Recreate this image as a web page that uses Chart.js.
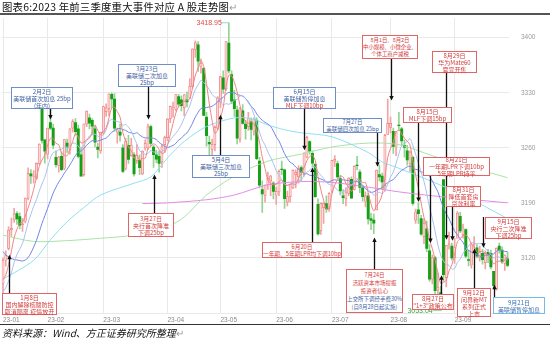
<!DOCTYPE html>
<html><head><meta charset="utf-8">
<script src="https://cdn.jsdelivr.net/npm/chart.js@4.4.1/dist/chart.umd.min.js"></script>
<style>
html,body{margin:0;padding:0;background:#fff;}
#wrap{position:relative;width:550px;height:342px;overflow:hidden;font-family:"Noto Sans CJK SC","Noto Sans",sans-serif;}
#c{position:absolute;left:0;top:0;}
.title{position:absolute;left:2px;top:-1px;font-size:10.4px;line-height:15px;color:#111;white-space:nowrap;letter-spacing:0.2px;}
.rule{position:absolute;left:0;width:550px;}
.src{position:absolute;left:2px;top:326px;font-size:10px;line-height:14px;font-style:italic;color:#111;white-space:nowrap;}
.ann{position:absolute;box-sizing:border-box;background:#fff;border:1px solid;text-align:center;white-space:nowrap;display:flex;flex-direction:column;justify-content:center;align-items:center;}
.ann div{line-height:7px;}
</style></head>
<body><div id="wrap">
<canvas id="c" width="550" height="342"></canvas>
<div class="title">图表6:2023 年前三季度重大事件对应 A 股走势图<span style="color:#999">↵</span></div>
<div class="rule" style="top:13px;height:2px;background:#555"></div>
<div class="rule" style="top:324px;height:1px;background:#333"></div>
<div class="src">资料来源：Wind、方正证券研究所整理<span style="color:#999;font-style:normal">↵</span></div>
</div>
<script>
// ---- trading days (2023, MMDD) ----
const dates = [
'0103','0104','0105','0106','0109','0110','0111','0112','0113','0116','0117','0118','0119','0120','0130','0131',
'0201','0202','0203','0206','0207','0208','0209','0210','0213','0214','0215','0216','0217','0220','0221','0222','0223','0224','0227','0228',
'0301','0302','0303','0306','0307','0308','0309','0310','0313','0314','0315','0316','0317','0320','0321','0322','0323','0324','0327','0328','0329','0330','0331',
'0403','0404','0406','0407','0410','0411','0412','0413','0414','0417','0418','0419','0420','0421','0424','0425','0426','0427','0428',
'0504','0505','0508','0509','0510','0511','0512','0515','0516','0517','0518','0519','0522','0523','0524','0525','0526','0529','0530','0531',
'0601','0602','0605','0606','0607','0608','0609','0612','0613','0614','0615','0616','0619','0620','0621','0626','0627','0628','0629','0630',
'0703','0704','0705','0706','0707','0710','0711','0712','0713','0714','0717','0718','0719','0720','0721','0724','0725','0726','0727','0728','0731',
'0801','0802','0803','0804','0807','0808','0809','0810','0811','0814','0815','0816','0817','0818','0821','0822','0823','0824','0825','0828','0829','0830','0831',
'0901','0904','0905','0906','0907','0908','0911','0912','0913','0914','0915','0918','0919','0920','0921','0922','0925','0926','0927','0928'];

const opens = [
3087.5,3117,3132,3155.8,3168.3,3176.3,3172.5,3162.2,3166.6,3196,3227,3223.5,3221,3240,3311,3270,
3252,3292,3285,3248,3237,3249,3234,3266,3258,3285,3292,3284,3251,3226,3290,3298,3295,3284,3261,3256,
3279,3306,3310,3328,3322,3280,3280,3260,3234,3263,3250,3251,3244,3244,3227,3260,3260,3287,3261,3251,3249,3242,3264,
3273,3297,3309,3309,3325,3321,3311,3321,3323,3338,3385,3391,3363,3361,3299,3267,3258,3264,3285,
3318,3349,3335,3393,3353,3321,3308,3271,3307,3290,3287,3293,3281,3295,3243,3207,3199,3213,3218,3215,
3200,3204,3233,3232,3191,3198,3209,3226,3223,3235,3226,3248,3268,3253,3239,3188,3155,3184,3189,3183,
3205,3243,3240,3221,3199,3195,3202,3220,3207,3238,3229,3209,3192,3199,3170,3168,3181,3226,3224,3212,3277,
3286,3281,3261,3289,3284,3263,3256,3240,3248,3168,3181,3170,3147,3157,3129,3093,3120,3079,3076,3219.5,3095,3137,3135,
3120,3145,3173,3150,3156,3118,3111,3137,3133,3120,3126,3114,3127,3126,3103,3081,3135,3130,3113,3119];

const highs = [
3119.9,3129,3159.4,3170.6,3183,3178.9,3177.3,3170.2,3196.3,3234.4,3232.2,3230.9,3241,3265,3311,3270.5,
3285,3311,3290,3256,3249,3255,3270.5,3271,3284.5,3296,3297,3289,3261,3290.5,3307,3303,3297,3289,3266,3280,
3313,3316,3329,3330,3329,3285,3290,3264,3272,3276,3272,3254,3264,3251,3256,3270,3290,3289,3263,3257,3256,3264,3275,
3297,3313,3318,3328,3328,3326,3328,3331,3348,3386,3396,3395,3373,3362,3305,3275,3271,3288,3325,
3351,3358,3395,3418.95,3358,3333,3313,3311,3315,3295,3305,3298,3298,3298,3248,3218,3213,3229,3225,3217,
3210,3232,3243,3233,3205,3214,3232,3232,3237,3237,3254,3275,3269,3256,3240,3195,3190,3190,3199,3203,
3244,3250,3243,3225,3207,3209,3222,3223,3237,3249,3232,3210,3204,3202,3177,3176,3232,3238,3228,3277,3322,
3299,3285,3281,3305,3286,3270,3263,3256,3249,3182,3190,3174,3170,3167,3137,3124,3122,3101,3084,3219.5,3136,3153,3139,
3145,3179,3178,3163,3157,3130,3138,3147,3137,3135,3131,3129,3131,3130,3103,3133,3139,3134,3124,3127];

const lows = [
3073,3109.5,3130.2,3147.5,3165,3162.5,3156.9,3153.6,3164.5,3193.8,3214.8,3215,3220,3239,3266,3240.5,
3246,3283,3259,3235.5,3229,3231,3232,3254,3252,3280,3276,3247,3224,3224,3287,3284,3276.5,3261,3247,3253,
3277,3300,3301,3311,3281.5,3266,3268.5,3228.5,3232,3240,3249,3224,3240,3226,3226,3257,3258,3262,3235,3241,3229,3235,3254,
3269,3292,3299,3307,3312,3307,3301,3312,3322,3336,3375,3357,3355,3301,3262,3249,3243,3256,3283,
3311,3329,3333,3355,3316,3300,3265,3267,3290,3271,3282,3270,3276,3245,3209,3178,3191,3207,3199,3195,
3188,3199,3226,3183,3186,3191,3208,3209,3215,3218,3224,3247,3252,3236,3197,3149,3150,3164,3178,3179,
3203,3236,3221,3200,3189,3186,3199,3196,3206,3232,3203,3192,3185,3163,3156,3151,3181,3218,3208,3205,3277,
3279,3253,3250,3282,3264,3248,3238,3230,3187,3164,3164,3149,3138,3128,3090,3087,3072,3070,3053.04,3090,3083,3131,3117,
3113,3145,3152,3145,3120,3110,3107,3131,3120,3116,3112,3106,3114,3106,3082,3079,3126,3113,3104,3109];

const closes = [
3116.5,3123.5,3155.2,3157.6,3176.1,3169.5,3161.8,3163.5,3195.3,3227.6,3224.4,3224.2,3240.3,3264.8,3269.3,3255.7,
3284.9,3285.0,3263.4,3238.7,3248.1,3232.1,3270.4,3260.7,3284.2,3293.3,3280.5,3249.0,3224.0,3290.3,3306.5,3291.2,3287.5,3267.2,3258.0,3279.6,
3312.4,3310.7,3328.4,3322.0,3285.1,3283.3,3276.1,3230.1,3268.7,3245.3,3263.3,3226.9,3250.6,3234.9,3255.7,3265.7,3286.7,3265.7,3251.4,3245.4,3240.1,3261.3,3272.9,
3296.4,3312.6,3311.6,3327.7,3315.4,3313.6,3327.2,3318.4,3338.2,3385.6,3393.3,3370.1,3367.0,3301.3,3275.4,3264.9,3264.1,3285.9,3323.3,
3350.5,3334.5,3395.0,3357.7,3319.2,3309.6,3272.4,3310.7,3291.0,3284.2,3297.3,3283.5,3296.5,3246.2,3212.5,3201.3,3212.5,3221.5,3224.2,3204.6,
3204.6,3230.1,3232.4,3195.3,3197.9,3213.6,3231.4,3228.8,3233.7,3229.0,3253.0,3273.3,3255.8,3240.4,3197.9,3150.6,3189.4,3189.4,3182.4,3202.1,
3244.0,3245.4,3223.0,3205.2,3196.6,3203.7,3221.4,3196.1,3236.5,3237.7,3209.6,3197.8,3198.8,3169.5,3167.8,3164.2,3231.5,3223.0,3216.7,3275.9,3291.0,
3291.0,3261.7,3280.5,3288.1,3268.8,3260.6,3244.5,3254.6,3189.3,3178.4,3176.2,3150.1,3163.7,3132.0,3093.0,3120.3,3078.4,3082.2,3064.1,3098.6,3135.9,3137.1,3119.9,
3133.3,3177.1,3154.4,3158.1,3122.4,3116.7,3137.1,3137.2,3122.4,3126.6,3117.7,3125.9,3124.4,3108.6,3084.7,3132.4,3130.1,3115.6,3123.1,3110.5];

// closes of Dec 2022 (for the short moving averages)
const dec2022Closes = [3156.1,3211.8,3212.5,3199.6,3197.4,3207.0,3179.0,3176.3,3176.5,3168.7,3167.9,3107.1,3073.8,3068.4,3054.4,3045.9,3065.6,3095.6,3087.4,3073.7,3089.3];

// long moving averages (day index, value)
const ma60Day  = [0,11,17,23,29,35,47,53,59,65,73,83,89,95,101,107,118,131,136,142,154,166,181];
const ma60Val  = [3093,3117,3143,3166,3184,3200,3215,3223,3247,3268,3287,3298,3297,3289,3283,3279,3274,3254,3242,3234,3217,3198,3170];
const ma120Day = [0,11,23,35,47,59,65,73,83,95,107,118,131,142,154,166,181];
const ma120Val = [3149,3141,3142,3145,3149,3160,3172,3200,3224,3243,3252,3261,3266,3264,3250,3237,3222];
const ma250Day = [50,59,73,83,95,107,118,131,142,154,166,181];
const ma250Val = [3189,3190,3194,3200,3213,3217,3216,3210,3204,3199,3195,3190];

const monthLabels = ['23-01','23-02','23-03','23-04','23-05','23-06','23-07','23-08','23-09'];
const yTicks = [3050,3120,3190,3260,3330,3400];

// events: text lines, style, box [left, top, w, h] in px, pointed day, arrow tip value
const events = [
 {l:['2月2日','美联储首次加息 25bp','(年内)'], k:'b', box:[11,87,62,22], at:'0202', tip:3296},
 {l:['3月23日','美联储二次加息','25bp'], k:'b', box:[118,64,58,23], at:'0323', tip:3296},
 {l:['1月8日','国内解除核酸防控','取消隔离 疫情放开'], k:'r', box:[2,293,55,22], at:'0105', tip:3124},
 {l:['3月27日','央行首次降准','下调25bp'], k:'r', box:[128,213,46,24], at:'0327', tip:3226},
 {l:['5月4日','美联储三次加息','25bp'], k:'b', box:[192,155,58,23], at:'0504', tip:3302},
 {l:['6月15日','美联储暂停加息',['MLF下调10bp','r']], k:'b', box:[273,87,63,22], at:'0615', tip:3257},
 {l:['6月20日','一年期、5年期LPR均下调10bp'], k:'r', box:[262,242,80,16], at:'0620', tip:3235, fs:5.7},
 {l:['7月27日','美联储四次加息 25bp'], k:'b', box:[323,118,59,15], at:'0725', tip:3236, fs:5.5},
 {l:['7月24日','活跃资本市场提振','投资者信心',['上交所下调经手费30%','b'],['(自8月28日起实施)','b']], k:'r', box:[346,269,57,44], at:'0724', tip:3146, fs:5.5, lh:8},
 {l:['8月1日、8月2日','中小规模、小微企业、','个体工商户减税'], k:'r', box:[362,35,56,24], at:'0801', tip:3320, fs:5.4},
 {l:['8月29日','华为Mate60','官宣开售'], k:'r', box:[432,51,45,22], at:'0829', tip:3143},
 {l:['8月15日','MLF下调15bp'], k:'r', box:[403,107,49,16], at:'0815', tip:3191},
 {l:['8月21日','一年期LPR下调10bp','5年期LPR持平'], k:'r', box:[423,157,67,19], at:'0821', tip:3139},
 {l:['8月31日','降低首套房','贷款利率'], k:'r', box:[446,186,35,21], at:'0831', tip:3142},
 {l:['8月27日','"1+3"政策公布'], k:'r', box:[412,294,42,16], at:'0825', tip:3098},
 {l:['9月12日','问界新M7','系列正式','上市'], k:'r', box:[457,288,34,29], at:'0912', tip:3132},
 {l:['9月15日','央行二次降准','下调25bp'], k:'r', box:[485,217,47,22], at:'0915', tip:3133, fromTop:true},
 {l:['9月21日','美联储暂停加息'], k:'lb', box:[493,297,52,17], at:'0921', tip:3086}
];

// ---- styles ----
const COL = {
  up:'#fcd6d6', upBorder:'#f07a7a', down:'#16a016',
  upWick:'#f3a3a3', downWick:'#93d393',
  ma5:'#f08585', ma10:'#a9c0f0', ma20:'#6f86e6', ma60:'#8ee0f0', ma120:'#a9e3a9', ma250:'#e58ae8',
  grid:'#e9e9e9'
};
const BOX = {
  b:{border:'#6f8ec6', text:'#3f5f9f'},
  r:{border:'#e06666', text:'#d33a3a'},
  lb:{border:'#7ab8e6', text:'#3c70b2'}
};

// ---- derived ----
const allC = dec2022Closes.concat(closes);
function movingAvg(n){
  const off = dec2022Closes.length, out = [];
  for (let i = 0; i < closes.length; i++){
    const j = i + off;
    if (j + 1 < n) continue;
    let s = 0; for (let k = j - n + 1; k <= j; k++) s += allC[k];
    out.push({x:i, y:s/n});
  }
  return out;
}
const pairs = (d,v) => d.map((x,i)=>({x, y:v[i]}));
const isUp = closes.map((c,i)=> c >= opens[i]);
const monthIdx = [];
dates.forEach((d,i)=>{ if (i===0 || d.slice(0,2)!==dates[i-1].slice(0,2)) monthIdx.push(i); });

// ---- annotation boxes (HTML text) ----
const wrap = document.getElementById('wrap');
events.forEach(e=>{
  const st = BOX[e.k];
  const d = document.createElement('div');
  d.className='ann';
  d.style.left=e.box[0]+'px'; d.style.top=e.box[1]+'px';
  d.style.width=e.box[2]+'px'; d.style.height=e.box[3]+'px';
  d.style.borderColor=st.border; d.style.color=st.text;
  d.style.fontSize=(e.fs||6)+'px';
  e.l.forEach(t=>{
    const s=document.createElement('div');
    if (Array.isArray(t)){ s.textContent=t[0]; s.style.color=BOX[t[1]].text; } else s.textContent=t;
    if (e.lh) s.style.lineHeight=e.lh+'px';
    d.appendChild(s);
  });
  wrap.appendChild(d);
});

// ---- plugin: arrows + extreme labels ----
const overlay = {
  id:'overlay',
  afterDatasetsDraw(chart){
    const {ctx, scales:{x, y}} = chart;
    ctx.save();
    const hi = Math.max(...highs), hiI = highs.indexOf(hi);
    const lo = Math.min(...lows), loI = lows.indexOf(lo);
    ctx.font = '7px "Liberation Sans", Arial, sans-serif';
    ctx.textBaseline = 'middle';
    let px = x.getPixelForValue(hiI), py = y.getPixelForValue(hi);
    ctx.strokeStyle = '#8fd6e8'; ctx.lineWidth = 1;
    ctx.beginPath(); ctx.moveTo(px-7, py); ctx.lineTo(px, py); ctx.stroke();
    ctx.fillStyle = '#e24848'; ctx.textAlign = 'right';
    ctx.fillText(hi.toFixed(2), px-7, py+0.5);
    px = x.getPixelForValue(loI); py = y.getPixelForValue(lo);
    ctx.strokeStyle = '#9ad89a';
    ctx.beginPath(); ctx.moveTo(px-8, py); ctx.lineTo(px, py); ctx.stroke();
    ctx.fillStyle = '#3aa63a';
    ctx.fillText(lo.toFixed(2), px-8, py);
    ctx.strokeStyle = '#111'; ctx.fillStyle = '#111'; ctx.lineWidth = 1.3;
    events.forEach(e=>{
      const tx = Math.round(x.getPixelForValue(dates.indexOf(e.at))) + 0.5;
      const ty = y.getPixelForValue(e.tip);
      const [bx,by,bw,bh] = e.box;
      let sy;
      if (e.fromTop) sy = by; else sy = ty > by + bh ? by + bh : by;
      const dir = ty > sy ? 1 : -1;
      ctx.beginPath(); ctx.moveTo(tx, sy); ctx.lineTo(tx, ty - dir*3); ctx.stroke();
      ctx.beginPath(); ctx.moveTo(tx, ty); ctx.lineTo(tx-2.2, ty - dir*4.5); ctx.lineTo(tx+2.2, ty - dir*4.5); ctx.closePath(); ctx.fill();
    });
    ctx.restore();
  }
};

const line = (label, data, color) => ({type:'line', label, data, borderColor:color, borderWidth:1, pointRadius:0, tension:0.3, order:0, spanGaps:true});

new Chart(document.getElementById('c'), {
  type:'bar',
  data:{datasets:[
    line('MA5', movingAvg(5), COL.ma5),
    line('MA10', movingAvg(10), COL.ma10),
    line('MA20', movingAvg(20), COL.ma20),
    line('MA60', pairs(ma60Day, ma60Val), COL.ma60),
    line('MA120', pairs(ma120Day, ma120Val), COL.ma120),
    line('MA250', pairs(ma250Day, ma250Val), COL.ma250),
    {type:'bar', label:'body', order:5, grouped:false, barThickness:2.3, borderSkipped:false,
     data: closes.map((c,i)=>({x:i, y:[opens[i], Math.abs(c-opens[i])<0.6 ? opens[i]+(isUp[i]?0.8:-0.8) : c]})),
     backgroundColor: isUp.map(u=>u?COL.up:COL.down),
     borderColor: isUp.map(u=>u?COL.upBorder:COL.down),
     borderWidth: isUp.map(u=>u?0.7:0)},
    {type:'bar', label:'wick', order:6, grouped:false, barThickness:1,
     data: highs.map((h,i)=>({x:i, y:[lows[i], h]})),
     backgroundColor: isUp.map(u=>u?COL.upWick:COL.downWick)}
  ]},
  options:{
    responsive:false, animation:false, devicePixelRatio:1,
    layout:{padding:{left:1, top:18, right:0, bottom:17}},
    plugins:{legend:{display:false}, tooltip:{enabled:false}},
    scales:{
      x:{type:'linear', min:-0.5, max:dates.length-0.5, offset:false,
         afterBuildTicks:s=>{ s.ticks = monthIdx.map(v=>({value:v})); },
         afterFit:s=>{ s.height = 12; },
         grid:{color:COL.grid, drawTicks:false, offset:false},
         border:{display:false},
         ticks:{autoSkip:false, maxRotation:0, align:'start', padding:3, color:'#8a8a8a',
                font:{size:6.5, family:'"Liberation Sans", Arial, sans-serif'},
                callback:v=>monthLabels[monthIdx.indexOf(v)]}},
      y:{type:'linear', position:'right', min:3050, max:3425, beginAtZero:false,
         afterBuildTicks:s=>{ s.ticks = yTicks.map(v=>({value:v})); },
         afterFit:s=>{ s.width = 41; },
         grid:{color:COL.grid, drawTicks:false},
         border:{display:false},
         ticks:{padding:12, color:'#9a9a9a', font:{size:6.5, family:'"Liberation Sans", Arial, sans-serif'},
                callback:v=> v===3050 ? '' : String(v)}}
    }
  },
  plugins:[overlay]
});
</script>
</body></html>
